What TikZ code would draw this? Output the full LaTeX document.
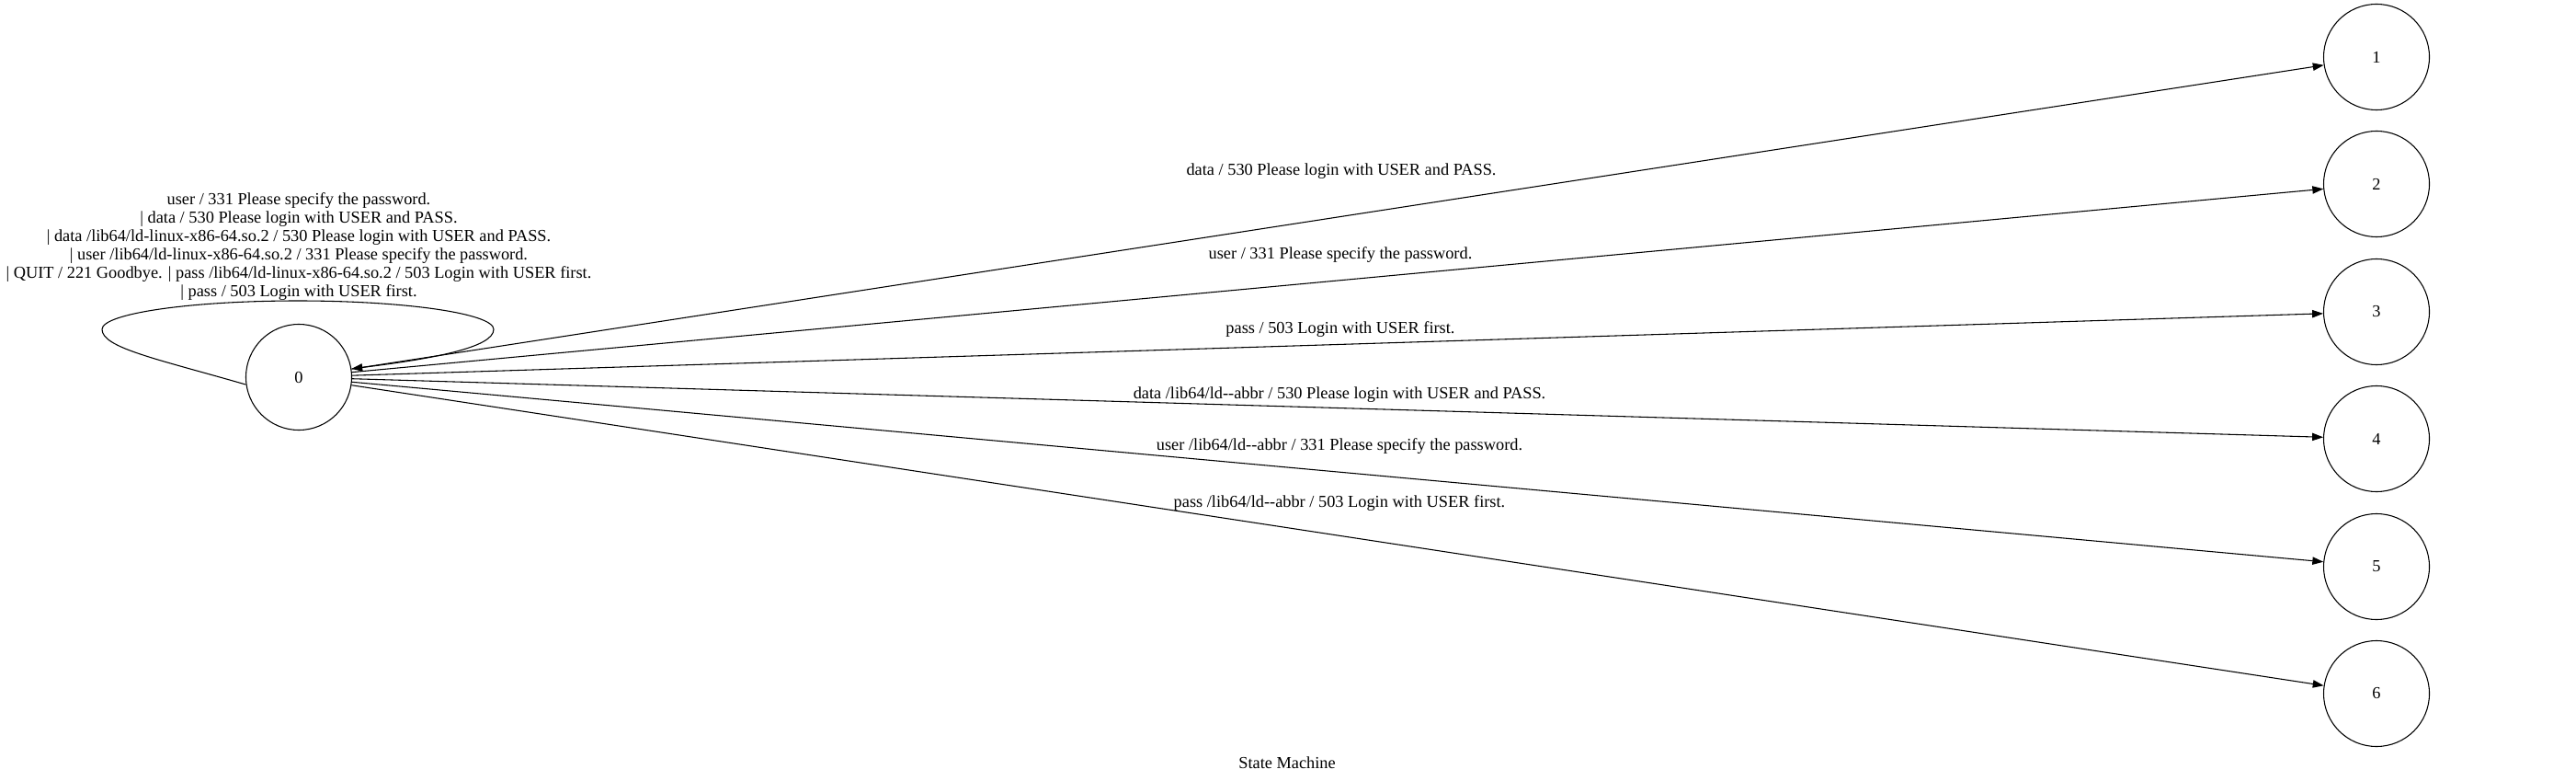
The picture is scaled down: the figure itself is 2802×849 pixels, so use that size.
\documentclass[tikz,border=0pt]{standalone}
\usepackage{fontspec}
\setmainfont{Liberation Serif}
\usetikzlibrary{arrows.meta}
\begin{document}
\begin{tikzpicture}[x=0.84pt,y=-0.84pt,
  state/.style={draw,circle,line width=0.9pt,minimum size=96.6pt,inner sep=0pt,font=\fontsize{15.4pt}{16.8pt}\selectfont},
  lbl/.style={inner sep=0pt,align=center,font=\fontsize{15.4pt}{16.8pt}\selectfont},
  edge/.style={line width=0.9pt,-{Triangle[length=10pt,width=7pt]}}]
\useasboundingbox (0,0) rectangle (2802,849);
\node[state] (n0) at (325,410) {0};
\node[state] (n1) at (2585,62) {1};
\node[state] (n2) at (2585,200) {2};
\node[state] (n3) at (2585,339) {3};
\node[state] (n4) at (2585,477) {4};
\node[state] (n5) at (2585,616) {5};
\node[state] (n6) at (2585,754) {6};
% self loop
\draw[edge] (n0.188) .. controls (170,390) and (111,378) .. (111,358)
  .. controls (111,341) and (206,327) .. (324,327)
  .. controls (442,327) and (537,341) .. (537,358)
  .. controls (537,378) and (470,390) .. (n0.9);
\node[lbl] (l0) at (325,268) {user / 331 Please specify the password.\\
| data / 530 Please login with USER and PASS.\\
| data /lib64/ld-linux-x86-64.so.2 / 530 Please login with USER and PASS.\\
| user /lib64/ld-linux-x86-64.so.2 / 331 Please specify the password.\\
| QUIT / 221 Goodbye. | pass /lib64/ld-linux-x86-64.so.2 / 503 Login with USER first.\\
| pass / 503 Login with USER first.};
\draw[edge] (n0) -- (n1);
\draw[edge] (n0) -- (n2);
\draw[edge] (n0) -- (n3);
\draw[edge] (n0) -- (n4);
\draw[edge] (n0) -- (n5);
\draw[edge] (n0) -- (n6);
\node[lbl] (l1) at (1459,186) {data / 530 Please login with USER and PASS.};
\node[lbl] (l2) at (1458,277) {user / 331 Please specify the password.};
\node[lbl] (l3) at (1458,358) {pass / 503 Login with USER first.};
\node[lbl] (l4) at (1457,429) {data /lib64/ld-{}-abbr / 530 Please login with USER and PASS.};
\node[lbl] (l5) at (1457,485) {user /lib64/ld-{}-abbr / 331 Please specify the password.};
\node[lbl] (l6) at (1457,547) {pass /lib64/ld-{}-abbr / 503 Login with USER first.};
\node[lbl] (title) at (1400,829) {State Machine};
\end{tikzpicture}
\end{document}
